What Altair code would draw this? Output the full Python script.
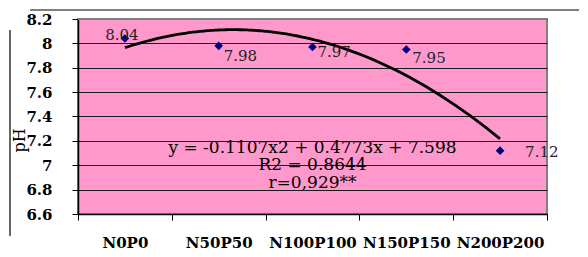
import altair as alt
import pandas as pd

# ---- data ----
categories = ["N0P0", "N50P50", "N100P100", "N150P150", "N200P200"]
positions = [1, 2, 3, 4, 5]
ph_values = [8.04, 7.98, 7.97, 7.95, 7.12]
value_labels = ["8.04", "7.98", "7.97", "7.95", "7.12"]
y_tick_values = [6.6, 6.8, 7.0, 7.2, 7.4, 7.6, 7.8, 8.0, 8.2]
x_tick_values = [0.5, 1.5, 2.5, 3.5, 4.5, 5.5]
equation_lines = ["y = -0.1107x2 + 0.4773x + 7.598", "R2 = 0.8644", "r=0,929**"]
equation_y = [7.142, 7.006, 6.854]
equation_x = [3, 3, 3]

FONT = "DejaVu Serif"
W, H = 469, 195

df = pd.DataFrame({"x": positions, "y": ph_values, "lab": value_labels, "cat": categories})
eq_df = pd.DataFrame({"x": equation_x, "y": equation_y, "t": equation_lines})

xscale = alt.Scale(domain=[0.5, 5.5], nice=False, zero=False)
yscale = alt.Scale(domain=[6.6, 8.2], nice=False, zero=False)

label_expr = ""
for i, c in enumerate(categories):
    label_expr += f"datum.value < {i + 1} ? '{c}' : "
label_expr += "''"

x_axis = alt.Axis(
    values=x_tick_values, labelExpr=label_expr, labelOffset=W / 10,
    labelOverlap=False, labelFlush=False, labelBound=False,
    labelFont=FONT, labelFontSize=15, labelFontWeight="bold", labelColor="black",
    labelPadding=15, tickColor="black", tickSize=6, domainColor="black",
    domainWidth=1.5, grid=False, title=None,
)
y_axis = alt.Axis(
    values=y_tick_values, format=".2~f", labelOverlap=False,
    labelFont=FONT, labelFontSize=15, labelFontWeight="bold", labelColor="black",
    labelPadding=20, tickColor="black", tickSize=6, domainColor="black", domainWidth=1.5,
    grid=True, gridColor="#1a1a1a", gridWidth=1,
    title="pH", titleFont=FONT, titleFontSize=16, titleFontWeight="normal",
    titleColor="black", titleAngle=270, titleX=-51, titleY=121,
)

X = alt.X("x:Q", scale=xscale, axis=x_axis)
Y = alt.Y("y:Q", scale=yscale, axis=y_axis)

one = pd.DataFrame({"k": [0]})

# decorative chart-area border drawn as pixel-positioned rules
border_style = dict(color="black", strokeWidth=1.2, clip=False)
frame_top = alt.Chart(one).mark_rule(**border_style).encode(
    x=alt.value(-48), x2=alt.value(W + 40), y=alt.value(-9)
)
frame_left = alt.Chart(one).mark_rule(**border_style).encode(
    x=alt.value(-68), y=alt.value(11), y2=alt.value(H + 22)
)
frame_bottom = alt.Chart(one).mark_rule(**border_style).encode(
    x=alt.value(-48), x2=alt.value(W + 40), y=alt.value(H + 42)
)

top_edge = alt.Chart(one).mark_rule(color="#808080", strokeWidth=2).encode(
    x=alt.value(0), x2=alt.value(W), y=alt.value(0)
)

trend = alt.Chart(df).transform_regression(
    "x", "y", method="poly", order=2, extent=[1, 5]
).mark_line(color="black", strokeWidth=2.8).encode(x=X, y=Y)

points = alt.Chart(df).mark_point(
    shape="diamond", filled=True, color="#000080", size=75, opacity=1
).encode(x=X, y=Y)


def value_label(pos, align, dx, dy):
    return alt.Chart(df).transform_filter(f"datum.x == {pos}").mark_text(
        font=FONT, fontSize=15, color="#222222", align=align, baseline="middle", dx=dx, dy=dy
    ).encode(x=X, y=Y, text="lab:N")


labels = [
    value_label(1, "center", -3, -4),
    value_label(2, "left", 5, 10),
    value_label(3, "left", 5, 5),
    value_label(4, "left", 6, 9),
    value_label(5, "left", 25, 1),
]

equation = alt.Chart(eq_df).mark_text(
    font=FONT, fontSize=17, color="black", align="center", baseline="middle"
).encode(x=X, y=Y, text="t:N")

chart = alt.layer(
    trend, points, *labels, equation, top_edge, frame_top, frame_left, frame_bottom
).properties(
    width=W, height=H,
    background="white",
    autosize=alt.AutoSizeParams(type="none"),
    padding={"left": 70, "top": 11, "right": 32, "bottom": 40},
).configure_view(
    fill="#FF99CC", stroke="#808080", strokeWidth=2
)

chart.save("out.html", embed_options={"renderer": "svg", "actions": False})
